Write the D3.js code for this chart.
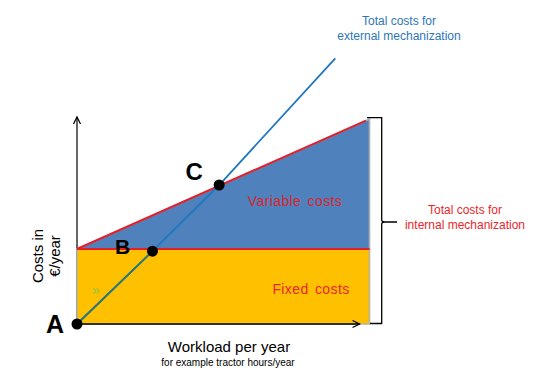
<!DOCTYPE html>
<html>
<head>
<meta charset="utf-8">
<script src="https://cdn.jsdelivr.net/npm/d3@7/dist/d3.min.js"></script>
<style>
  html, body { margin: 0; padding: 0; background: #fff; }
  svg { display: block; font-family: "Liberation Sans", Arial, sans-serif; }
</style>
</head>
<body>
<svg id="chart" width="550" height="379"></svg>
<script>
// ---- data ----
const workload = [0, 10];                 // x extent of the cost areas
const fixedCosts = [36.6, 36.6];          // fixed costs (flat)
const totalInternal = [36.6, 100];        // fixed + variable costs
const externalX = [0, 2.58, 4.86, 8.83];
const externalY = [0, 35.5, 67.8, 129.6];
const pointLabels = ["A", "B", "C"];      // first three external points
const xAxisMax = 9.66;
const yAxisMax = 101;

// ---- scales ----
const x = d3.scaleLinear().domain([0, 10]).range([77, 369.5]);
const y = d3.scaleLinear().domain([0, 100]).range([324, 119]);

const svg = d3.select("#chart");

// y axis (drawn beneath the areas)
svg.append("line")
  .attr("x1", x(0)).attr("x2", x(0))
  .attr("y1", y(0)).attr("y2", y(yAxisMax))
  .attr("stroke", "#000").attr("stroke-width", 1.2);
svg.append("path")
  .attr("d", `M${x(0)-3.5},${y(yAxisMax)+7} L${x(0)},${y(yAxisMax)} L${x(0)+3.5},${y(yAxisMax)+7}`)
  .attr("fill", "none").attr("stroke", "#000").attr("stroke-width", 1.2);

// fixed cost area
const fixedPts = workload.map((w, i) => [x(w), y(fixedCosts[i])]);
svg.append("path")
  .attr("d", `M${x(workload[0])},${y(0)} L${fixedPts.map(p => p.join(",")).join(" L")} L${x(workload[1])},${y(0)} Z`)
  .attr("fill", "#FFC000").attr("stroke", "#b4b49a").attr("stroke-width", 1.6);

// variable cost area
const totPts = workload.map((w, i) => [x(w), y(totalInternal[i])]);
const varArea = `M${fixedPts[0].join(",")} L${totPts[0].join(",")} L${totPts[1].join(",")} L${fixedPts[1].join(",")} Z`;
svg.append("path")
  .attr("d", varArea)
  .attr("fill", "#4F81BD").attr("stroke", "#a8aeb4").attr("stroke-width", 1.6);

// red lines
const redLine = d3.line().x(d => d[0]).y(d => d[1]);
svg.append("path").attr("d", redLine(fixedPts))
  .attr("fill", "none").attr("stroke", "#E3202A").attr("stroke-width", 2);
const totEnd = [x(workload[1]) - 3.5, y(totalInternal[1] - (totalInternal[1]-totalInternal[0]) * 3.5 / (x(workload[1]) - x(workload[0])))];
svg.append("path").attr("d", redLine([totPts[0], totEnd]))
  .attr("fill", "none").attr("stroke", "#E3202A").attr("stroke-width", 2);

// x axis
svg.append("line")
  .attr("x1", x(0)).attr("x2", x(xAxisMax))
  .attr("y1", y(0)).attr("y2", y(0))
  .attr("stroke", "#000").attr("stroke-width", 1.6);
svg.append("path")
  .attr("d", `M${x(xAxisMax)-7},${y(0)-3.5} L${x(xAxisMax)},${y(0)} L${x(xAxisMax)-7},${y(0)+3.5}`)
  .attr("fill", "none").attr("stroke", "#000").attr("stroke-width", 1.3);

// external mechanization line
const extPts = externalX.map((v, i) => [x(v), y(externalY[i])]);
const extLine = d3.line().x(d => d[0]).y(d => d[1]);
svg.append("path").attr("d", extLine(extPts))
  .attr("fill", "none").attr("stroke", "#1F77C0").attr("stroke-width", 1.8);
// segment over the yellow area appears teal
svg.append("clipPath").attr("id", "fixclip")
  .append("rect").attr("x", x(0)).attr("y", y(fixedCosts[0]) + 1)
  .attr("width", x(workload[1]) - x(0)).attr("height", y(0) - y(fixedCosts[0]));
svg.append("path").attr("d", extLine(extPts))
  .attr("clip-path", "url(#fixclip)")
  .attr("fill", "none").attr("stroke", "#2E7B6C").attr("stroke-width", 1.8);

// points A, B, C
const labelOffsets = [[-22, 9, 25], [-30, 3, 21], [-25, -5, 24]];
pointLabels.forEach((lab, i) => {
  const [px, py] = extPts[i];
  svg.append("circle").attr("cx", px).attr("cy", py).attr("r", 5.5).attr("fill", "#000");
  svg.append("text")
    .attr("x", px + labelOffsets[i][0]).attr("y", py + labelOffsets[i][1])
    .attr("text-anchor", "middle").attr("font-weight", "bold")
    .attr("font-size", labelOffsets[i][2]).attr("fill", "#000")
    .text(lab);
});

// small green mark
svg.append("text").attr("x", 96).attr("y", 295).attr("text-anchor", "middle")
  .attr("font-size", 14).attr("fill", "#8DC63F").text("»");

// area labels
svg.append("text").attr("x", 295).attr("y", 206).attr("text-anchor", "middle")
  .attr("font-size", 14).attr("fill", "#D9262E").attr("letter-spacing", 0.4).attr("word-spacing", 2).text("Variable costs");
svg.append("text").attr("x", 311).attr("y", 294).attr("text-anchor", "middle")
  .attr("font-size", 14).attr("fill", "#E8262A").attr("letter-spacing", 0.4).attr("word-spacing", 2).text("Fixed costs");

// external label
svg.append("text").attr("x", 399).attr("y", 25).attr("text-anchor", "middle")
  .attr("font-size", 12).attr("fill", "#2E75B6").text("Total costs for");
svg.append("text").attr("x", 399).attr("y", 40).attr("text-anchor", "middle")
  .attr("font-size", 12).attr("fill", "#2E75B6").text("external mechanization");

// internal label
svg.append("text").attr("x", 465).attr("y", 214).attr("text-anchor", "middle")
  .attr("font-size", 12).attr("fill", "#E8262A").text("Total costs for");
svg.append("text").attr("x", 465).attr("y", 229).attr("text-anchor", "middle")
  .attr("font-size", 12).attr("fill", "#E8262A").text("internal mechanization");

// curly bracket
const bTop = y(totalInternal[1]) - 1.3, bBot = y(0) - 0.5, bx = 381.7, bMid = 222;
svg.append("path")
  .attr("d", `M367,${bTop} L${bx},${bTop} L${bx},${bMid-2} Q${bx},${bMid} ${bx+4},${bMid} L397,${bMid} M${bx+4},${bMid} Q${bx},${bMid} ${bx},${bMid+2} L${bx},${bBot} L370,${bBot}`)
  .attr("fill", "none").attr("stroke", "#000").attr("stroke-width", 1.3);

// axis titles
svg.append("text").attr("x", 229).attr("y", 352).attr("text-anchor", "middle")
  .attr("font-size", 15).attr("fill", "#000").text("Workload per year");
svg.append("text").attr("x", 228).attr("y", 366).attr("text-anchor", "middle")
  .attr("font-size", 10).attr("fill", "#000").text("for example tractor hours/year");

const yt = svg.append("text").attr("transform", "translate(43,256) rotate(-90)")
  .attr("text-anchor", "middle").attr("font-size", 15).attr("fill", "#000");
yt.append("tspan").attr("x", 0).attr("y", 0).text("Costs in");
yt.append("tspan").attr("x", 0).attr("y", 17).text("€/year");
</script>
</body>
</html>
